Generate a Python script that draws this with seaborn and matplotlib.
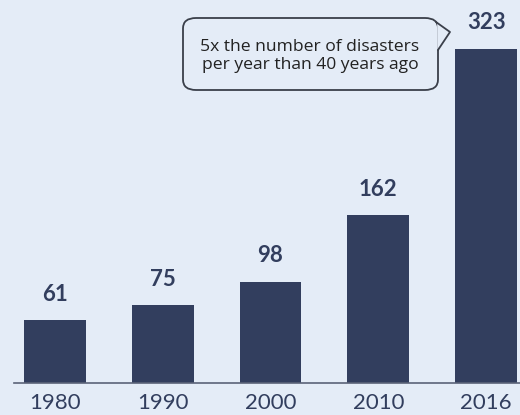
import matplotlib
matplotlib.use("Agg")
import matplotlib.pyplot as plt
import seaborn as sns
import pandas as pd
from matplotlib.patches import FancyBboxPatch, Polygon
from matplotlib.lines import Line2D

years = ["1980", "1990", "2000", "2010", "2016"]
disasters = [61, 75, 98, 162, 323]
callout_text = "5x the number of disasters\nper year than 40 years ago"

BG = "#e4ecf7"
BAR = "#323e5e"

sns.set_theme(style="white")
plt.rcParams["font.family"] = ["Lato", "DejaVu Sans"]

df = pd.DataFrame({"year": years, "count": disasters})

W, H = 520, 415
fig = plt.figure(figsize=(W / 100, H / 100), dpi=100, facecolor=BG)
ax = fig.add_axes([14 / W, (H - 383) / H, (W - 14) / W, 383 / H])
ax.set_facecolor(BG)

sns.barplot(data=df, x="year", y="count", color=BAR, width=0.574,
            saturation=1, ax=ax, edgecolor="none")

ax.set_xlim(-0.38, 4.315)
ax.set_ylim(0, 370)
for s in ["top", "right", "left"]:
    ax.spines[s].set_visible(False)
ax.spines["bottom"].set_color("#5a6378")
ax.spines["bottom"].set_linewidth(1.2)
ax.set_yticks([])
ax.set_xlabel("")
ax.set_ylabel("")
ax.tick_params(axis="x", length=0, pad=7, labelsize=16, labelcolor=BAR)

for i, v in enumerate(disasters):
    ax.annotate(str(v), (i, v), xytext=(0, 11), textcoords="offset points",
                ha="center", va="bottom", fontsize=16, fontweight="bold",
                color=BAR)

# callout bubble (figure pixel coordinates)
def fx(x):
    return x / W

def fy(y):
    return (H - y) / H

box = FancyBboxPatch((fx(183), fy(90)), fx(438) - fx(183), fy(18) - fy(90),
                     boxstyle="round,pad=0,rounding_size=0.025",
                     transform=fig.transFigure, facecolor=BG,
                     edgecolor="#3a3f4a", linewidth=1.3, zorder=5)
fig.add_artist(box)
cover = Polygon([(fx(437.2), fy(23)), (fx(450), fy(32)), (fx(437.2), fy(50))],
                closed=True, transform=fig.transFigure, facecolor=BG,
                edgecolor="none", zorder=6)
fig.add_artist(cover)
tail = Line2D([fx(436), fx(450), fx(438)], [fy(22), fy(32), fy(50)],
              transform=fig.transFigure, color="#3a3f4a", linewidth=1.3,
              zorder=7)
fig.add_artist(tail)
fig.text(fx(310), fy(56), callout_text, ha="center", va="center",
         fontsize=12.6, color="#222222", linespacing=1.15,
         family=["Open Sans", "DejaVu Sans"], zorder=8)

fig.savefig("out.png", dpi=100, facecolor=BG)
